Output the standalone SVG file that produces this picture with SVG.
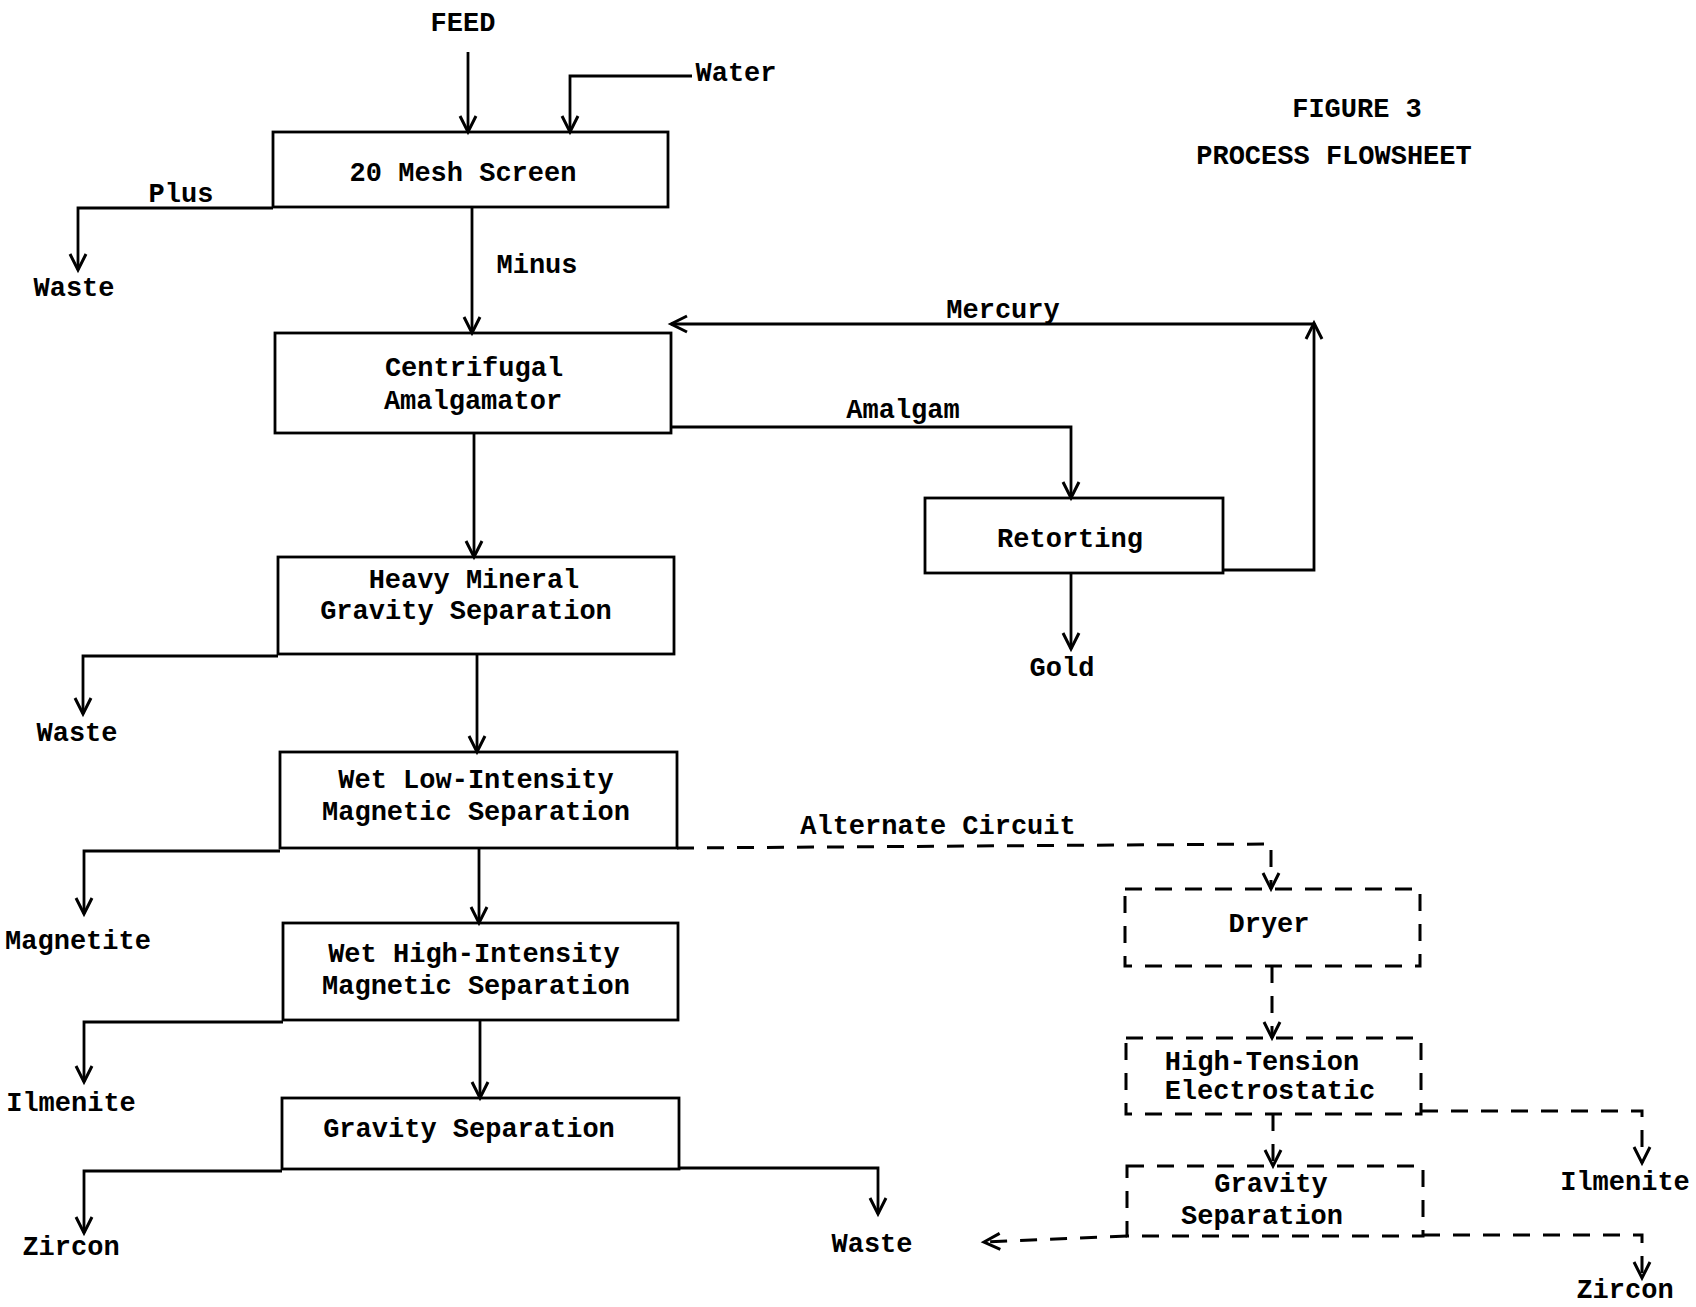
<svg xmlns="http://www.w3.org/2000/svg" width="1696" height="1307" viewBox="0 0 1696 1307">
<style>
text{font-family:"Liberation Mono","DejaVu Sans Mono",monospace;font-size:27px;font-weight:bold;fill:#000;text-anchor:middle}
.box{fill:none;stroke:#000;stroke-width:2.8}
.dbox{fill:none;stroke:#000;stroke-width:3;stroke-dasharray:17 13}
.ln{fill:none;stroke:#000;stroke-width:2.8}
.dl{fill:none;stroke:#000;stroke-width:3;stroke-dasharray:17 13}
.arr{marker-end:url(#a)}
</style>
<defs>
<marker id="a" markerUnits="userSpaceOnUse" markerWidth="24" markerHeight="24" viewBox="0 0 24 24" refX="20" refY="12" orient="auto">
<path d="M4,4 L20,12 L4,20" fill="none" stroke="#000" stroke-width="3"/>
</marker>
</defs>
<rect width="1696" height="1307" fill="#fff"/>

<g id="title">
<text x="1357" y="117">FIGURE 3</text>
<text x="1334" y="164">PROCESS FLOWSHEET</text>
</g>

<g id="labels">
<text x="463" y="31">FEED</text>
<text x="736" y="81">Water</text>
<text x="181" y="202">Plus</text>
<text x="74" y="296">Waste</text>
<text x="537" y="273">Minus</text>
<text x="1003" y="318">Mercury</text>
<text x="903" y="418">Amalgam</text>
<text x="1062" y="676">Gold</text>
<text x="77" y="741">Waste</text>
<text x="78" y="949">Magnetite</text>
<text x="71" y="1111">Ilmenite</text>
<text x="71" y="1255">Zircon</text>
<text x="872" y="1252">Waste</text>
<text x="938" y="834">Alternate Circuit</text>
<text x="1625" y="1190">Ilmenite</text>
<text x="1625" y="1298">Zircon</text>
</g>

<g id="n-screen">
<rect class="box" x="273" y="132" width="395" height="75"/>
<text x="463" y="181">20 Mesh Screen</text>
</g>
<g id="n-amalgamator">
<rect class="box" x="275" y="333" width="396" height="100"/>
<text x="474" y="376">Centrifugal</text>
<text x="473" y="409">Amalgamator</text>
</g>
<g id="n-retorting">
<rect class="box" x="925" y="498" width="298" height="75"/>
<text x="1070" y="547">Retorting</text>
</g>
<g id="n-heavy">
<rect class="box" x="278" y="557" width="396" height="97"/>
<text x="474" y="588">Heavy Mineral</text>
<text x="466" y="619">Gravity Separation</text>
</g>
<g id="n-lowint">
<rect class="box" x="280" y="752" width="397" height="96"/>
<text x="476" y="788">Wet Low-Intensity</text>
<text x="476" y="820">Magnetic Separation</text>
</g>
<g id="n-highint">
<rect class="box" x="283" y="923" width="395" height="97"/>
<text x="474" y="962">Wet High-Intensity</text>
<text x="476" y="994">Magnetic Separation</text>
</g>
<g id="n-gravity">
<rect class="box" x="282" y="1098" width="397" height="71"/>
<text x="469" y="1137">Gravity Separation</text>
</g>
<g id="n-dryer">
<rect class="dbox" x="1125" y="889" width="295" height="77"/>
<text x="1269" y="932">Dryer</text>
</g>
<g id="n-hightension">
<rect class="dbox" x="1126" y="1038" width="295" height="76"/>
<text x="1262" y="1070">High-Tension</text>
<text x="1270" y="1099">Electrostatic</text>
</g>
<g id="n-gravity2">
<rect class="dbox" x="1127" y="1166" width="296" height="70"/>
<text x="1271" y="1192">Gravity</text>
<text x="1262" y="1224">Separation</text>
</g>

<g id="connectors">
<path class="ln arr" d="M468,52 V132"/>
<path class="ln arr" d="M692,76 H570 V132"/>
<path class="ln arr" d="M273,208 H78 V270"/>
<path class="ln arr" d="M472,207 V333"/>
<path class="ln arr" d="M1223,570 H1314 V323"/>
<path class="ln arr" d="M1314,324 H671"/>
<path class="ln arr" d="M671,427 H1071 V498"/>
<path class="ln arr" d="M1071,573 V649"/>
<path class="ln arr" d="M474,433 V557"/>
<path class="ln arr" d="M278,656 H83 V714"/>
<path class="ln arr" d="M477,654 V752"/>
<path class="ln arr" d="M280,851 H84 V914"/>
<path class="ln arr" d="M479,848 V923"/>
<path class="ln arr" d="M283,1022 H84 V1082"/>
<path class="ln arr" d="M480,1020 V1098"/>
<path class="ln arr" d="M282,1171 H84 V1233"/>
<path class="ln arr" d="M679,1168 H878 V1214"/>
<path class="dl arr" d="M677,848 L1271,844 V889"/>
<path class="dl arr" d="M1272,966 V1038"/>
<path class="dl arr" d="M1273,1114 V1166"/>
<path class="dl arr" d="M1421,1111 H1642 V1163"/>
<path class="dl arr" d="M1127,1236 L984,1242"/>
<path class="dl arr" d="M1423,1235 H1642 V1278"/>
</g>
</svg>
